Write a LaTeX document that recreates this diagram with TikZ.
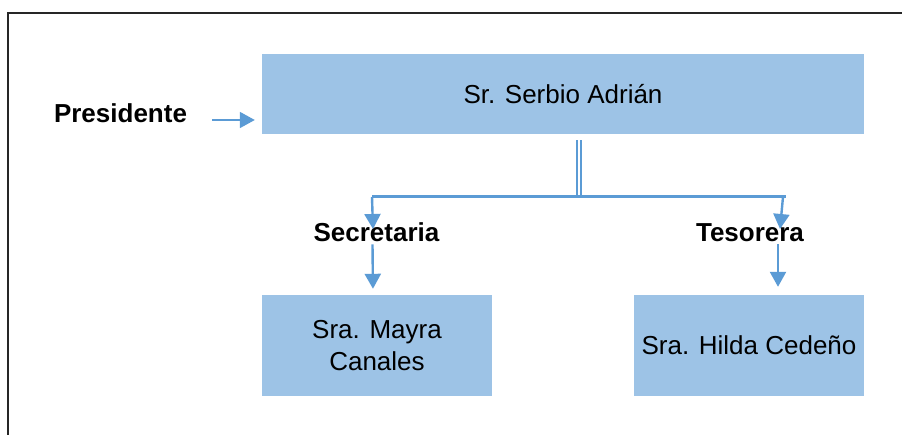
\documentclass[tikz,border=0pt]{standalone}
\usepackage{fontspec}
\setmainfont{Liberation Sans}
\usetikzlibrary{arrows.meta}
\definecolor{cajaazul}{HTML}{9DC3E6}
\definecolor{lineaazul}{HTML}{5B9BD5}
\begin{document}
\begin{tikzpicture}[x=1pt,y=-1pt,
		caja/.style={fill=cajaazul,inner sep=0pt,align=center,minimum width=230pt,minimum height=101pt,font=\fontsize{26}{32}\selectfont},
		cargo/.style={inner sep=0pt,anchor=base,font=\fontsize{26}{30}\selectfont\bfseries},
		flecha/.style={draw=lineaazul,line width=2.4pt,-{Triangle[width=16pt,length=15pt]}},
		barra/.style={draw=lineaazul,line width=3pt},
		doble/.style={draw=lineaazul,line width=1.7pt,double=white,double distance=1.8pt}]
		\useasboundingbox (0,0) rectangle (902,435);
		\draw[line width=1.5pt,black!85] (8,435) -- (8,13) -- (902,13);
		
		\node[caja,minimum width=602pt,minimum height=80pt] (serbio) at (563,94) {Sr. Serbio Adrián};
		\node[caja] (mayra) at (377,345.5) {Sra. Mayra\\Canales};
		\node[caja] (hilda) at (749,345.5) {Sra. Hilda Cedeño};
		
		\node[cargo] (presidente) at (120.5,123) {Presidente};
		\node[cargo] (secretaria) at (376.5,242) {Secretaria};
		\node[cargo] (tesorera) at (750,242) {Tesorera};
		
		\coordinate (pres) at (212,120);
		\coordinate (rama) at (579,197);
		\coordinate (izq) at (372,197);
		\coordinate (der) at (786,197);
		\coordinate (secr) at (373,229);
		\coordinate (teso) at (780,229);
		
		\draw[flecha,line width=1.8pt,shorten >=7pt] (pres) -- (pres -| serbio.west);
		\draw[doble] ([yshift=-6pt]serbio.south -| rama) -- (rama);
		\draw[barra] (izq) -- (der);
		\draw[flecha] (izq) -- (secr);
		\draw[flecha] ([xshift=-3pt]der) -- (teso);
		\draw[flecha,shorten >=6pt] ([xshift=-4pt,yshift=-2pt]secretaria.south) -- ([xshift=-4pt]mayra.north);
		\draw[flecha,shorten >=8pt] ([xshift=28pt,yshift=-2pt]tesorera.south) -- ([xshift=29pt]hilda.north);
		
\end{tikzpicture}
\end{document}
